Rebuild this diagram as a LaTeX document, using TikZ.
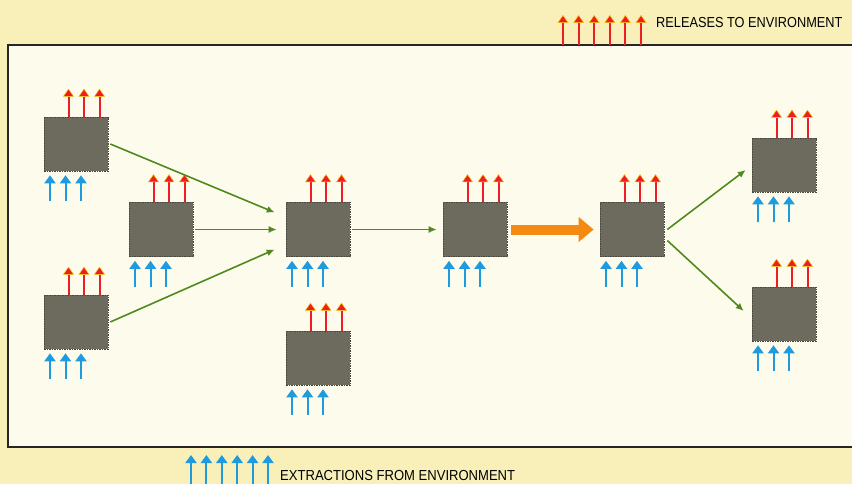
\documentclass[tikz,border=0pt]{standalone}
\usepackage{fontspec}
\setmainfont{Liberation Sans}
\usetikzlibrary{arrows.meta}
\definecolor{outerbg}{HTML}{F8F0B8}
\definecolor{innerbg}{HTML}{FDFCEC}
\definecolor{boxgray}{HTML}{6D6B5E}
\definecolor{boxedge}{HTML}{4A483E}
\definecolor{relred}{HTML}{EE1C24}
\definecolor{relyel}{HTML}{F8C000}
\definecolor{extblue}{HTML}{1E9BE0}
\definecolor{flowgreen}{HTML}{4F8A1E}
\definecolor{floworange}{HTML}{F58A12}
\tikzset{
  pbox/.style={fill=boxgray, draw=boxedge, dashed, dash pattern=on 1.5pt off 1pt, line width=0.6pt, minimum width=64pt, minimum height=54pt, inner sep=0pt},
  relarrow/.style={draw=relred, line width=2pt, -{Triangle[width=11pt,length=8pt,color=relyel,fill=relred,line width=0.5pt]}},
  extarrow/.style={draw=extblue, line width=2pt, -{Triangle[width=11pt,length=8pt]}},
  garrow/.style={draw=flowgreen, line width=1.6pt, -{Latex[length=8pt,width=7pt]}},
  oarrow/.style={draw=floworange, line width=10pt, -{Triangle[length=15pt,width=24pt]}},
  legend/.style={font=\fontsize{14.5}{16}\selectfont, text=black, inner sep=0pt, anchor=west},
  frame/.style={draw=black!85, line width=1.4pt}
}
\newcommand{\flows}[1]{%
  \foreach \dx in {-7.5,8,23.5} \draw[relarrow] ([xshift=\dx pt]#1.north) -- ++(0,-28);
  \foreach \dx in {-26,-10.5,5} \draw[extarrow] ([xshift=\dx pt, yshift=-30pt]#1.south) -- ++(0,-26);
}
\begin{document}
\begin{tikzpicture}[x=1pt,y=-1pt]
\fill[outerbg] (0,0) rectangle (852,484);
\useasboundingbox (0,0) rectangle (852,484);
\fill[innerbg] (8,45) rectangle (852,447);
\draw[frame] (852,45) -- (8,45) -- (8,447) -- (852,447);

\node[pbox] (b1) at (76,144) {};
\node[pbox] (b2) at (161,229.5) {};
\node[pbox] (b3) at (76,322) {};
\node[pbox] (b4) at (318,229.5) {};
\node[pbox] (b5) at (318,358) {};
\node[pbox] (b6) at (475,229.5) {};
\node[pbox] (b7) at (632,229.5) {};
\node[pbox] (b8) at (784,165) {};
\node[pbox] (b9) at (784,314) {};

\flows{b1}\flows{b2}\flows{b3}\flows{b4}\flows{b5}\flows{b6}\flows{b7}\flows{b8}\flows{b9}

\draw[garrow] ([xshift=2pt]b1.east) -- ([xshift=-11pt,yshift=17pt]b4.west);
\draw[garrow] ([xshift=2pt]b2.east) -- ([xshift=-9pt]b4.west);
\draw[garrow] ([xshift=2pt]b3.east) -- ([xshift=-11pt,yshift=-20pt]b4.west);
\draw[garrow] ([xshift=2pt]b4.east) -- ([xshift=-6pt]b6.west);
\draw[oarrow] ([xshift=4pt]b6.east) -- ([xshift=-6pt]b7.west);
\draw[garrow] ([xshift=3pt]b7.east) -- ([xshift=-6pt,yshift=-5pt]b8.west);
\draw[garrow] ([xshift=3pt,yshift=-11pt]b7.east) -- ([xshift=-8pt,yshift=3pt]b9.west);

% legends
\coordinate (rl) at (563,45);
\foreach \i in {0,...,5} \draw[relarrow] ([xshift=\i*15.6pt]rl) -- ++(0,-30);
\node[legend] (reltext) at (656,23) {\scalebox{0.88}[1]{RELEASES TO ENVIRONMENT}};
\coordinate (el) at (191,490);
\foreach \i in {0,...,5} \draw[extarrow] ([xshift=\i*15.4pt]el) -- ++(0,-35);
\node[legend] (exttext) at (280,476) {\scalebox{0.9}[1]{EXTRACTIONS FROM ENVIRONMENT}};
\end{tikzpicture}
\end{document}
